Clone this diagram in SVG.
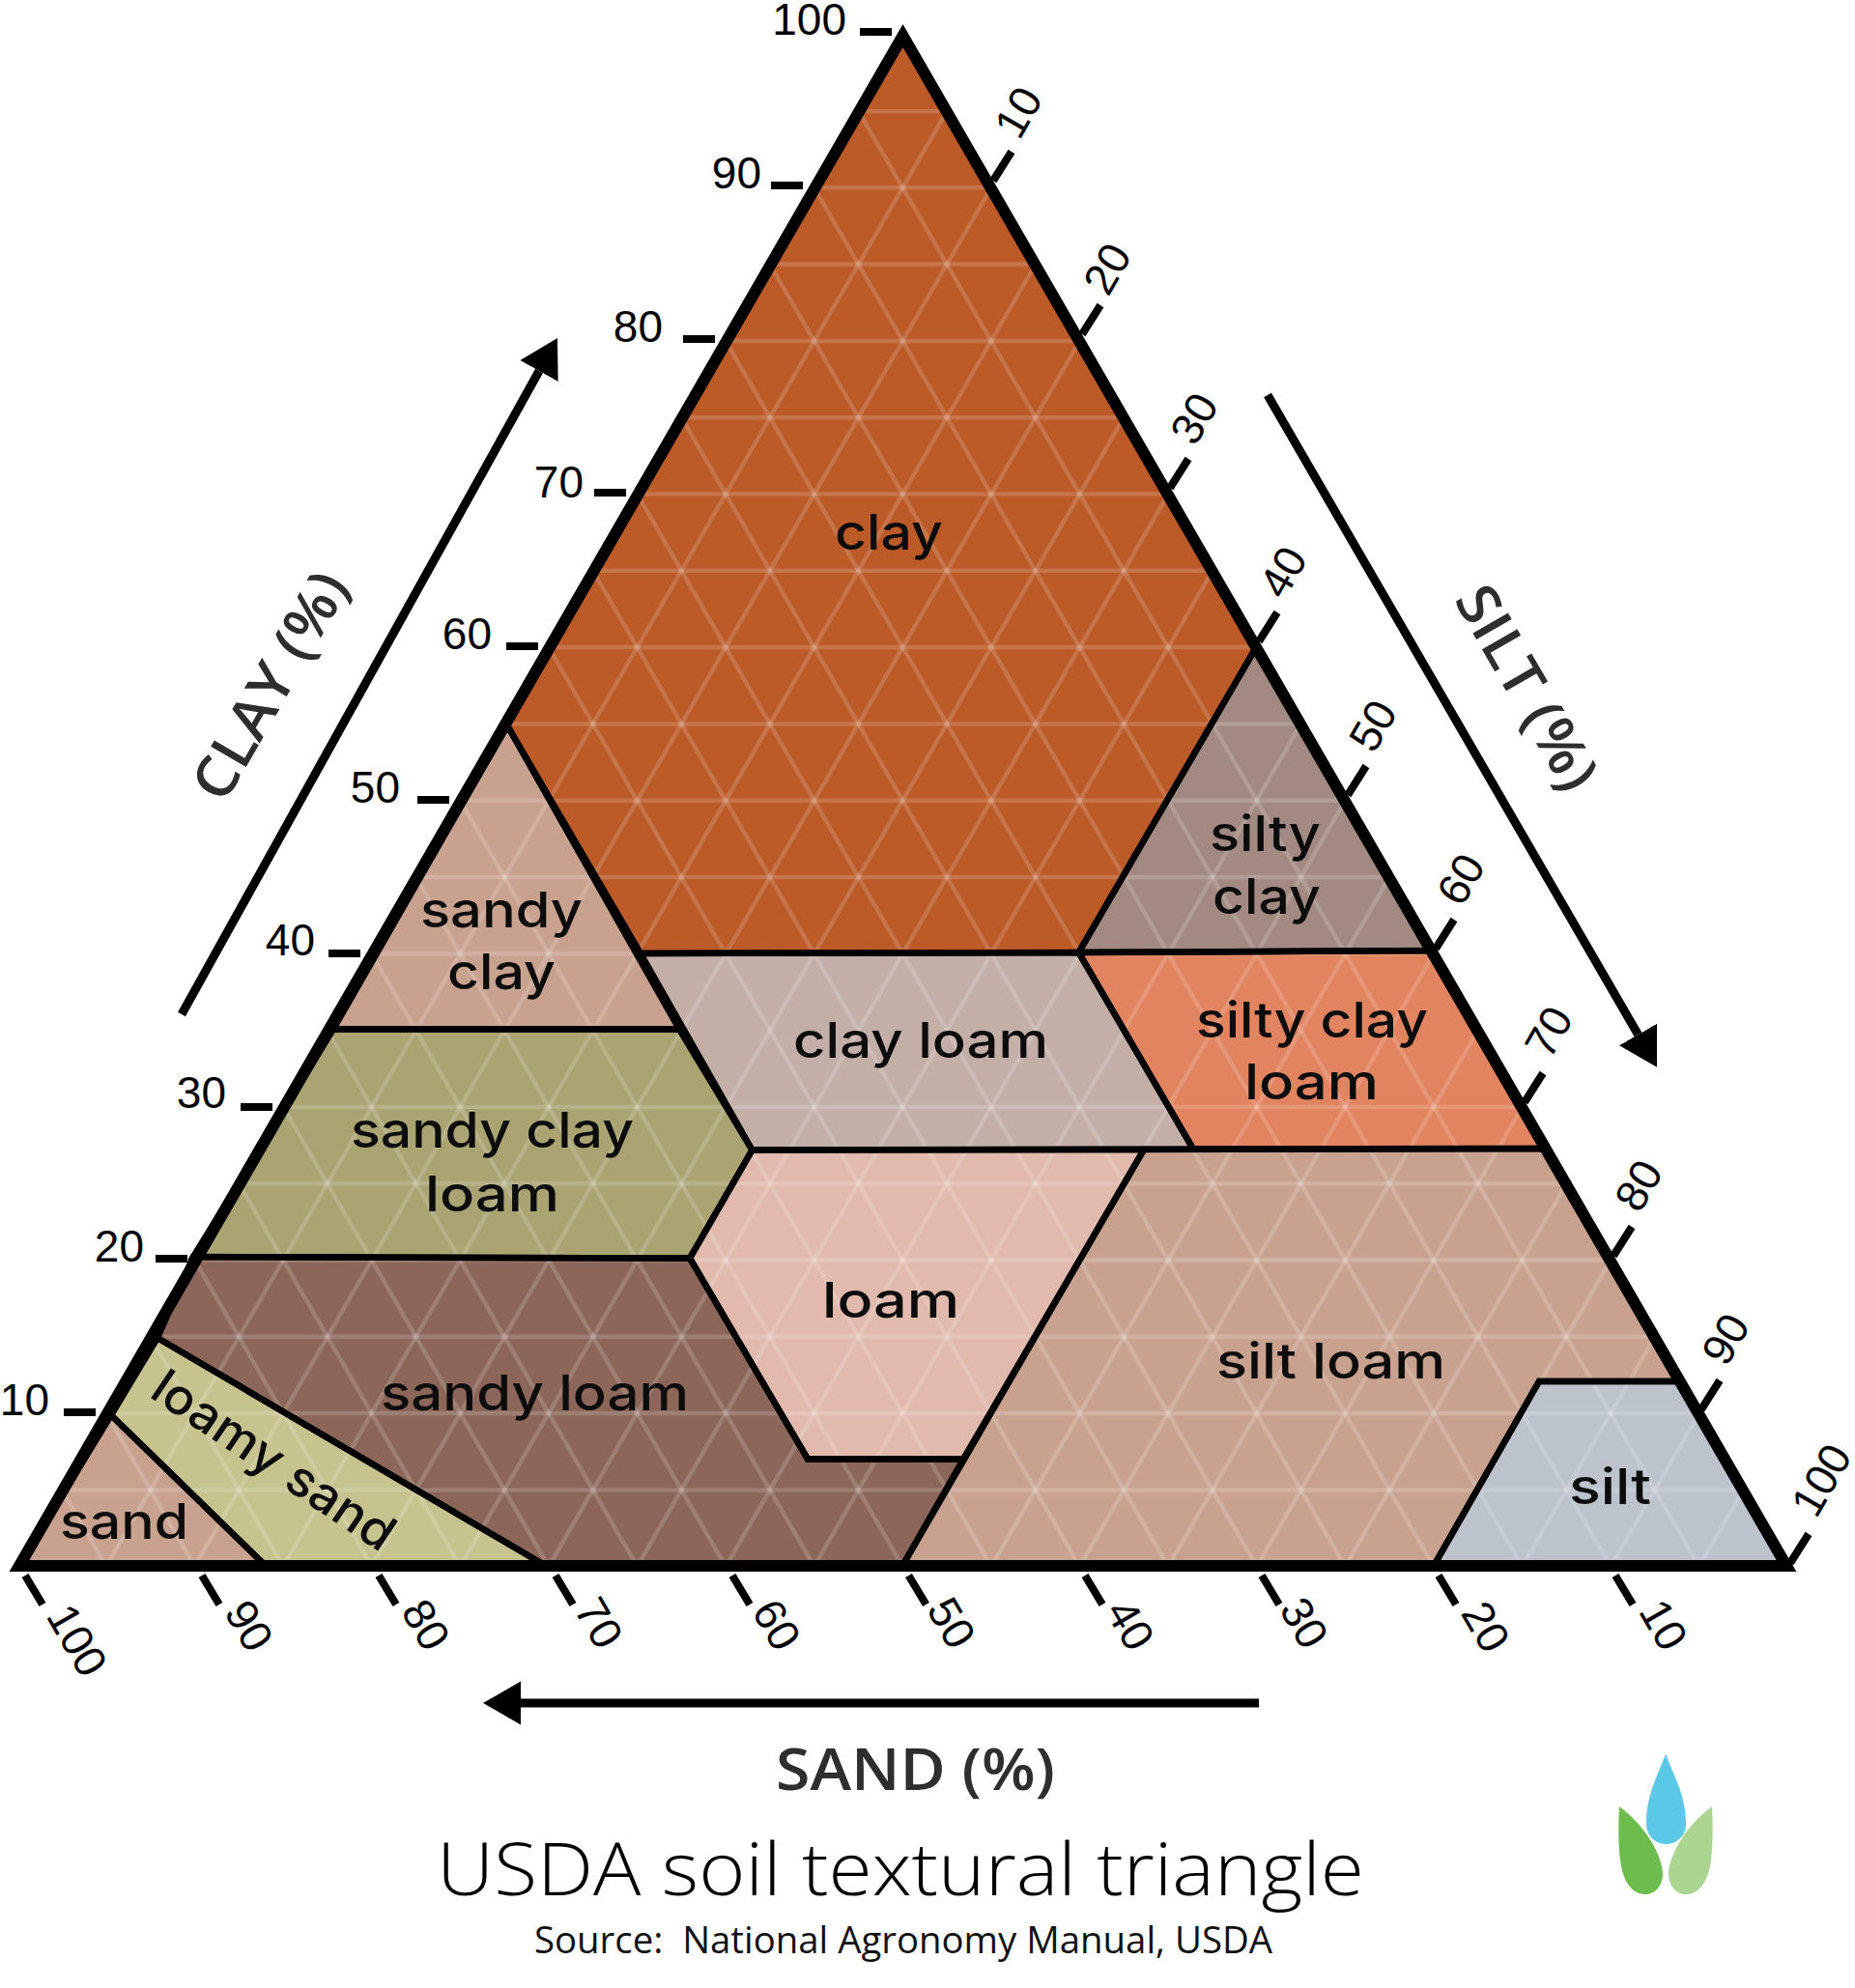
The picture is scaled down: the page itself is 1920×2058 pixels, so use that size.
<svg xmlns="http://www.w3.org/2000/svg" width="1920" height="2058" viewBox="0 0 1920 2058">
<style>
.reg{stroke:none}
.out{fill:none;stroke:#000;stroke-width:6.5;stroke-linejoin:miter}
.lbl{font-family:"Inter","Open Sans",sans-serif;font-weight:500;font-size:51px;fill:#0c0c0c}
.num{font-family:"Liberation Sans",Arial,sans-serif;font-size:46px;fill:#000;text-anchor:middle}
.numL{font-family:"Liberation Sans",Arial,sans-serif;font-size:46px;fill:#000;text-anchor:end}
.tick{stroke:#000;stroke-width:8;fill:none}
.axis{font-family:"Open Sans",sans-serif;font-weight:600;font-size:59px;fill:#2e2e2e;text-anchor:middle}
.arrow{stroke:#000;stroke-width:9;fill:none;marker-end:url(#head)}
.grid{fill:none;stroke:#fff;stroke-opacity:.16;stroke-width:4.5}
</style>
<defs>
<marker id="head" markerUnits="userSpaceOnUse" markerWidth="40" markerHeight="46" refX="0" refY="23" orient="auto"><path d="M0 0.5L39 23L0 45.5Z" fill="#000"/></marker>
</defs>
<rect width="1920" height="2058" fill="#fff"/>
<g id="region-fills">
<polygon class="reg" fill="#bc5a28" points="934.5,37 525,751 663,987 1116.5,986 1299,672"/>
<polygon class="reg" fill="#c9a18f" points="525,751 703,1065.5 345,1065.5"/>
<polygon class="reg" fill="#c3aea8" points="663,987 1116.5,986 1235,1189.5 778.5,1190.5"/>
<polygon class="reg" fill="#a28a82" points="1299,672 1116.5,986 1483,984"/>
<polygon class="reg" fill="#e2845f" points="1116.5,986 1483,984 1599,1189 1235,1189.5"/>
<polygon class="reg" fill="#aaa473" points="345,1065.5 703,1065.5 778.5,1190.5 714,1302.5 200,1301"/>
<polygon class="reg" fill="#e1baad" points="778.5,1190.5 1184,1190 997,1510.5 836,1510.5 714,1302.5"/>
<polygon class="reg" fill="#c9a28f" points="1184,1190 1599,1189 1740,1430 1593,1430 1484,1621 934,1621"/>
<polygon class="reg" fill="#bcc3cd" points="1593,1430 1740,1430 1849,1621 1484,1621"/>
<polygon class="reg" fill="#8c6759" points="200,1301 714,1302.5 836,1510.5 997,1510.5 934,1621 565,1621 163,1385"/>
<polygon class="reg" fill="#c6c38f" points="163,1385 565,1621 275,1621 115,1465"/>
<polygon class="reg" fill="#c9a28f" points="115,1465 275,1621 20,1621"/>
</g>
<g id="grid">
<path class="grid" d="M888.5 115H980.1M842.7 194.3H1025.9M796.9 273.6H1071.7M751.1 352.9H1117.5M705.3 432.2H1163.3M659.5 511.5H1209.1M613.7 590.8H1254.9M567.9 670.1H1300.7M522.1 749.4H1346.5M476.3 828.7H1392.3M430.5 908H1438.1M384.7 987.3H1483.9M293.1 1145.9H1575.5M247.3 1225.2H1621.3M201.5 1304.5H1667.1M155.7 1383.8H1712.9M109.9 1463.1H1758.7M64.1 1542.4H1804.5"/>
<path class="grid" d="M888.5 115L1758.7 1621.7M842.7 194.3L1667.1 1621.7M796.9 273.6L1575.5 1621.7M751.1 352.9L1483.9 1621.7M705.3 432.2L1392.3 1621.7M659.5 511.5L1300.7 1621.7M613.7 590.8L1209.1 1621.7M567.9 670.1L1117.5 1621.7M522.1 749.4L1025.9 1621.7M476.3 828.7L934.3 1621.7M430.5 908L842.7 1621.7M384.7 987.3L751.1 1621.7M338.9 1066.6L659.5 1621.7M293.1 1145.9L567.9 1621.7M247.3 1225.2L476.3 1621.7M201.5 1304.5L384.7 1621.7M155.7 1383.8L293.1 1621.7M109.9 1463.1L201.5 1621.7M64.1 1542.4L109.9 1621.7"/>
<path class="grid" d="M980.1 115L109.9 1621.7M1025.9 194.3L201.5 1621.7M1071.7 273.6L293.1 1621.7M1117.5 352.9L384.7 1621.7M1163.3 432.2L476.3 1621.7M1209.1 511.5L567.9 1621.7M1254.9 590.8L659.5 1621.7M1300.7 670.1L751.1 1621.7M1346.5 749.4L842.7 1621.7M1392.3 828.7L934.3 1621.7M1438.1 908L1025.9 1621.7M1483.9 987.3L1117.5 1621.7M1529.7 1066.6L1209.1 1621.7M1575.5 1145.9L1300.7 1621.7M1621.3 1225.2L1392.3 1621.7M1667.1 1304.5L1483.9 1621.7M1712.9 1383.8L1575.5 1621.7M1758.7 1463.1L1667.1 1621.7M1804.5 1542.4L1758.7 1621.7"/>
</g>
<g id="clay"><polygon class="out" points="934.5,37 525,751 663,987 1116.5,986 1299,672"/><text class="lbl" x="864" y="569" textLength="112" lengthAdjust="spacingAndGlyphs">clay</text></g>
<g id="sandy-clay"><polygon class="out" points="525,751 703,1065.5 345,1065.5"/><text class="lbl" x="435" y="960" textLength="168" lengthAdjust="spacingAndGlyphs">sandy</text><text class="lbl" x="463" y="1024" textLength="112" lengthAdjust="spacingAndGlyphs">clay</text></g>
<g id="clay-loam"><polygon class="out" points="663,987 1116.5,986 1235,1189.5 778.5,1190.5"/><text class="lbl" x="821" y="1095" textLength="264" lengthAdjust="spacingAndGlyphs">clay loam</text></g>
<g id="silty-clay"><polygon class="out" points="1299,672 1116.5,986 1483,984"/><text class="lbl" x="1252" y="881" textLength="115" lengthAdjust="spacingAndGlyphs">silty</text><text class="lbl" x="1255" y="946" textLength="112" lengthAdjust="spacingAndGlyphs">clay</text></g>
<g id="silty-clay-loam"><polygon class="out" points="1116.5,986 1483,984 1599,1189 1235,1189.5"/><text class="lbl" x="1238" y="1074" textLength="240" lengthAdjust="spacingAndGlyphs">silty clay</text><text class="lbl" x="1288" y="1138" textLength="139" lengthAdjust="spacingAndGlyphs">loam</text></g>
<g id="sandy-clay-loam"><polygon class="out" points="345,1065.5 703,1065.5 778.5,1190.5 714,1302.5 200,1301"/><text class="lbl" x="363" y="1188" textLength="293" lengthAdjust="spacingAndGlyphs">sandy clay</text><text class="lbl" x="440" y="1254" textLength="139" lengthAdjust="spacingAndGlyphs">loam</text></g>
<g id="loam"><polygon class="out" points="778.5,1190.5 1184,1190 997,1510.5 836,1510.5 714,1302.5"/><text class="lbl" x="851" y="1364" textLength="142" lengthAdjust="spacingAndGlyphs">loam</text></g>
<g id="silt-loam"><polygon class="out" points="1184,1190 1599,1189 1740,1430 1593,1430 1484,1621 934,1621"/><text class="lbl" x="1259" y="1427" textLength="237" lengthAdjust="spacingAndGlyphs">silt loam</text></g>
<g id="silt"><polygon class="out" points="1593,1430 1740,1430 1849,1621 1484,1621"/><text class="lbl" x="1624" y="1557" textLength="85" lengthAdjust="spacingAndGlyphs">silt</text></g>
<g id="sandy-loam"><polygon class="out" points="200,1301 714,1302.5 836,1510.5 997,1510.5 934,1621 565,1621 163,1385"/><text class="lbl" x="394" y="1460" textLength="319" lengthAdjust="spacingAndGlyphs">sandy loam</text></g>
<g id="loamy-sand"><polygon class="out" points="163,1385 565,1621 275,1621 115,1465"/><text class="lbl" transform="translate(153,1445) rotate(34)" textLength="291" lengthAdjust="spacingAndGlyphs">loamy sand</text></g>
<g id="sand"><polygon class="out" points="115,1465 275,1621 20,1621"/><text class="lbl" x="62" y="1593" textLength="133" lengthAdjust="spacingAndGlyphs">sand</text></g>
<polygon id="border" points="934.5,37 1849,1621 20,1621" fill="none" stroke="#000" stroke-width="12"/>
<g id="ticks">
<path class="tick" d="M890 33H923M798 192H831M707 351H740M615 510H648M524 669H557M432 828H465M340 987H373M249 1146H282M161 1303H194M66 1462H99"/>
<path class="tick" d="M1028 187L1047 157M1120 346L1139 316M1211 505L1230 475M1303 664L1322 634M1395 823L1414 793M1486 982L1505 952M1578 1141L1597 1111M1670 1300L1689 1270M1761 1459L1780 1429M1853 1618L1872 1588"/>
<path class="tick" d="M26 1631L44 1661M209 1631L227 1661M392 1631L410 1661M575 1631L593 1661M758 1631L776 1661M940.5 1631L958.5 1661M1123 1631L1141 1661M1306 1631L1324 1661M1489 1631L1507 1661M1672 1631L1690 1661"/>
</g>
<g id="clay-scale">
<text class="numL" x="876" y="36">100</text><text class="numL" x="788" y="195">90</text><text class="numL" x="686" y="354">80</text><text class="numL" x="604" y="515">70</text><text class="numL" x="509" y="672">60</text><text class="numL" x="414" y="831">50</text><text class="numL" x="326" y="989">40</text><text class="numL" x="234" y="1147">30</text><text class="numL" x="149" y="1306">20</text><text class="numL" x="51" y="1465">10</text>
</g>
<g id="silt-scale">
<text class="num" transform="translate(1054,116) rotate(-60)" y="16">10</text>
<text class="num" transform="translate(1146,278) rotate(-60)" y="16">20</text>
<text class="num" transform="translate(1236,433) rotate(-60)" y="16">30</text>
<text class="num" transform="translate(1328,592) rotate(-60)" y="16">40</text>
<text class="num" transform="translate(1421,751) rotate(-60)" y="16">50</text>
<text class="num" transform="translate(1512,910) rotate(-60)" y="16">60</text>
<text class="num" transform="translate(1603,1068) rotate(-60)" y="16">70</text>
<text class="num" transform="translate(1696,1227) rotate(-60)" y="16">80</text>
<text class="num" transform="translate(1786,1386) rotate(-60)" y="16">90</text>
<text class="num" transform="translate(1885,1532) rotate(-60)" y="16">100</text>
</g>
<g id="sand-scale">
<text class="num" transform="translate(80,1698) rotate(60)" y="16">100</text>
<text class="num" transform="translate(258,1683) rotate(60)" y="16">90</text>
<text class="num" transform="translate(441,1682) rotate(60)" y="16">80</text>
<text class="num" transform="translate(620,1680) rotate(60)" y="16">70</text>
<text class="num" transform="translate(804,1682) rotate(60)" y="16">60</text>
<text class="num" transform="translate(985,1680) rotate(60)" y="16">50</text>
<text class="num" transform="translate(1170,1682) rotate(60)" y="16">40</text>
<text class="num" transform="translate(1350,1680) rotate(60)" y="16">30</text>
<text class="num" transform="translate(1538,1684) rotate(60)" y="16">20</text>
<text class="num" transform="translate(1722,1682) rotate(60)" y="16">10</text>
</g>
<g id="connectors">
<line class="arrow" x1="188" y1="1050" x2="558" y2="384"/>
<line class="arrow" x1="1312" y1="409" x2="1695.5" y2="1071"/>
<line class="arrow" x1="1303" y1="1763" x2="539" y2="1763"/>
</g>
<g id="axis-labels">
<text class="axis" transform="translate(280,710) rotate(-60)" y="20" textLength="262" lengthAdjust="spacingAndGlyphs">CLAY (%)</text>
<text class="axis" transform="translate(1580,712) rotate(60)" y="20" textLength="234" lengthAdjust="spacingAndGlyphs">SILT (%)</text>
<text class="axis" x="947.5" y="1853" textLength="289" lengthAdjust="spacingAndGlyphs">SAND (%)</text>
</g>
<g id="title">
<text x="452" y="1962" textLength="960" lengthAdjust="spacingAndGlyphs" font-family="Open Sans, sans-serif" font-size="76" font-weight="350" fill="#000">USDA soil textural triangle</text>
<text x="553" y="2022" textLength="764" lengthAdjust="spacingAndGlyphs" font-family="Open Sans, sans-serif" font-size="39" fill="#111" xml:space="preserve">Source:  National Agronomy Manual, USDA</text>
</g>
<g id="logo">
<path fill="#5bc8e8" d="M1724 1815.6C1716 1838 1704 1858 1704 1888C1704 1900 1713 1909 1724.5 1909C1736 1909 1745 1900 1745 1888C1745 1858 1732 1838 1724 1815.6Z"/>
<path fill="#6cbd4d" d="M1676 1870C1675 1890 1675 1910 1677 1925C1679 1945 1688 1961 1703 1961C1714 1961 1721 1951 1721 1940C1721 1925 1707 1893 1676 1870Z"/>
<path fill="#acd592" d="M1772 1870C1773 1890 1773 1910 1771 1925C1769 1945 1760 1961 1745 1961C1734 1961 1727 1951 1727 1940C1727 1925 1741 1893 1772 1870Z"/>
</g>
</svg>
